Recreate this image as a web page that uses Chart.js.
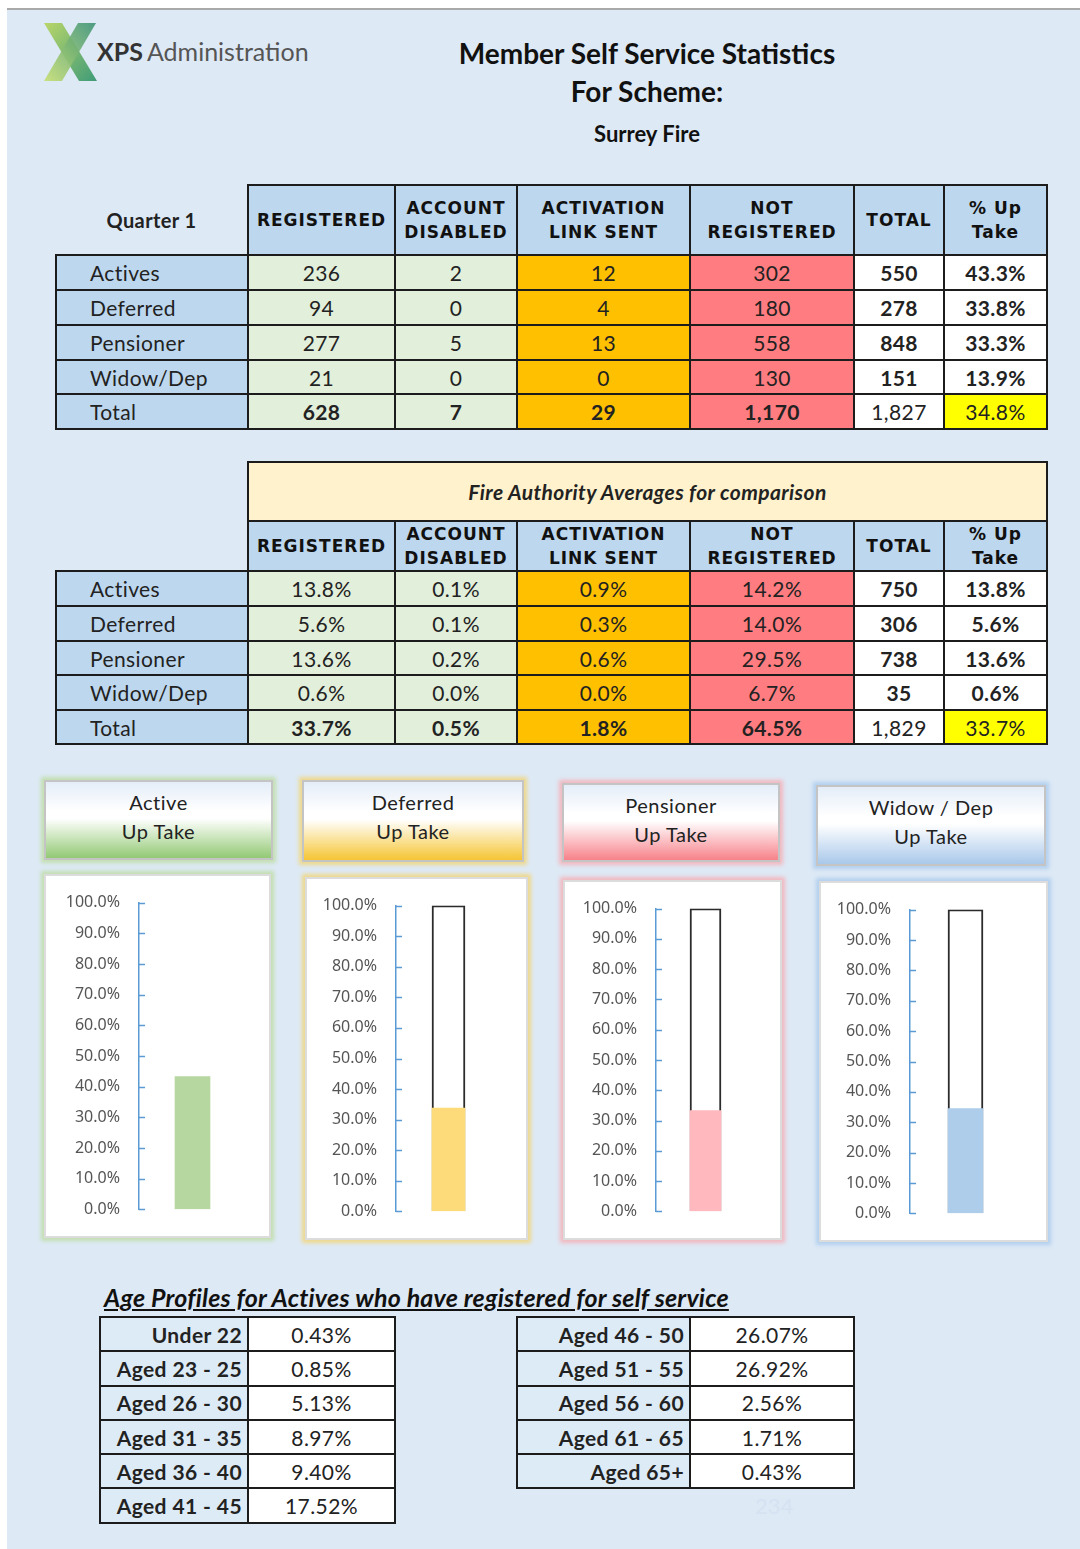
<!DOCTYPE html>
<html>
<head>
<meta charset="utf-8">
<script src="https://cdn.jsdelivr.net/npm/chart.js@4.4.1/dist/chart.umd.min.js"></script>
<style>
    html, body { margin: 0; padding: 0; background: #fff; }
    body { width: 1080px; height: 1549px; position: relative; overflow: hidden; font-family: Lato, 'Noto Sans', sans-serif; }
    .sheet { position: absolute; left: 7px; top: 8px; width: 1073px; height: 1541px; background: #dde9f5; border-top: 2px solid #a9a9a9; }
    .abs { position: absolute; }
    .title { left: 0; width: 1294px; text-align: center; color: #111; font-weight: 700; }
    table { position: absolute; border-collapse: collapse; table-layout: fixed; }
    td { border: 2px solid #1c1c1c; padding: 0; text-align: center; vertical-align: middle; font-size: 21px; color: #222; letter-spacing: 0.4px; white-space: nowrap; }
    td.hd { background: #bdd7ee; font-family: 'DejaVu Sans', sans-serif; font-weight: 700; font-size: 17px; line-height: 24px; letter-spacing: 1px; color: #111; }
    td.lbl { background: #bdd7ee; text-align: left; padding-left: 33px; }
    td.reg { background: #e2efda; }
    td.link { background: #ffc000; }
    td.notreg { background: #ff7c80; }
    td.plain { background: #fff; }
    td.hi { background: #ffff00; }
    td.b { font-weight: 700; }
    td.none { border: none; background: transparent; }
    td.fa { background: #fff2cc; font-style: italic; font-weight: 700; font-size: 21px; }
    td.age { background: #ddebf7; text-align: right; padding-right: 5px; font-weight: 700; font-size: 21px; }
    td.agev { background: #fff; }
    .cardTitle { position: absolute; box-sizing: border-box; border: 2px solid #c4c4c4; text-align: center; font-size: 20px; line-height: 29px; color: #222; padding-top: 6px; letter-spacing: 0.5px; }
    .cardBox { position: absolute; box-sizing: border-box; background: #fff; border: 2px solid #dcdcdc; }
    canvas { position: absolute; }
</style>
</head>
<body>
<div class="sheet"></div>

<svg class="abs" style="left:0;top:0" width="330" height="100">
    <defs>
        <linearGradient id="g1" x1="0" y1="0" x2="1" y2="1">
            <stop offset="0" stop-color="#b9d66a"/>
            <stop offset="1" stop-color="#3f9b78"/>
        </linearGradient>
        <linearGradient id="g2" x1="1" y1="0" x2="0" y2="1">
            <stop offset="0" stop-color="#3d9377"/>
            <stop offset="1" stop-color="#c6df72"/>
        </linearGradient>
    </defs>
    <polygon points="44,23 62,23 97,81 79,81" fill="url(#g1)"/>
    <polygon points="78,23 96,23 62,81 44,81" fill="url(#g2)" opacity="0.9"/>
    <text x="97" y="61" font-family="Lato, sans-serif" font-size="25" fill="#333"><tspan font-weight="700">XPS</tspan><tspan fill="#555" dx="4">Administration</tspan></text>
</svg>

<div class="abs title" style="top:36px;font-size:28px;">Member Self Service Statistics</div>
<div class="abs title" style="top:74px;font-size:28px;">For Scheme:</div>
<div class="abs title" style="top:120px;font-size:22px;">Surrey Fire</div>

<table id="q1Table" style="left:55px;top:184px;width:991px;"></table>
<table id="faTable" style="left:55px;top:461px;width:991px;"></table>

<div id="cards"></div>

<div class="abs" style="left:104px;top:1282px;font-size:25px;font-weight:700;font-style:italic;text-decoration:underline;color:#111;letter-spacing:0.2px;">Age Profiles for Actives who have registered for self service</div>
<table id="ageLeft" style="left:99px;top:1316px;width:295px;"></table>
<table id="ageRight" style="left:516px;top:1316px;width:337px;"></table>
<div class="abs" style="left:755px;top:1492px;font-size:22px;color:#d6e2f1;">234</div>

<script>
// Row / column names
const rowLabels = ['Actives', 'Deferred', 'Pensioner', 'Widow/Dep', 'Total'];
const colHeaders = ['REGISTERED', 'ACCOUNT<br>DISABLED', 'ACTIVATION<br>LINK SENT', 'NOT<br>REGISTERED', 'TOTAL', '% Up<br>Take'];

// Quarter 1 figures
const q1Registered = [236, 94, 277, 21, 628];
const q1Disabled = [2, 0, 5, 0, 7];
const q1LinkSent = [12, 4, 13, 0, 29];
const q1NotRegistered = [302, 180, 558, 130, 1170];
const q1Total = [550, 278, 848, 151, 1827];
const q1UpTake = [43.3, 33.8, 33.3, 13.9, 34.8];

// Fire authority averages
const faRegistered = [13.8, 5.6, 13.6, 0.6, 33.7];
const faDisabled = [0.1, 0.1, 0.2, 0.0, 0.5];
const faLinkSent = [0.9, 0.3, 0.6, 0.0, 1.8];
const faNotRegistered = [14.2, 14.0, 29.5, 6.7, 64.5];
const faTotal = [750, 306, 738, 35, 1829];
const faUpTake = [13.8, 5.6, 13.6, 0.6, 33.7];

// Up take gauges
const upTakeCategories = ['Active', 'Deferred', 'Pensioner', 'Widow / Dep'];
const upTakeBars = [43.3, 33.8, 33.3, 34.5];
const upTakeCapacity = [null, 100, 100, 100];
const axisMin = 0;
const axisMax = 100;
const axisStep = 10;

// Age profiles
const ageBandsLeft = ['Under 22', 'Aged 23 - 25', 'Aged 26 - 30', 'Aged 31 - 35', 'Aged 36 - 40', 'Aged 41 - 45'];
const ageShareLeft = [0.43, 0.85, 5.13, 8.97, 9.40, 17.52];
const ageBandsRight = ['Aged 46 - 50', 'Aged 51 - 55', 'Aged 56 - 60', 'Aged 61 - 65', 'Aged 65+'];
const ageShareRight = [26.07, 26.92, 2.56, 1.71, 0.43];


const colWidths = [192, 147, 122, 173, 164, 90, 103];
const fillClasses = ['reg', 'reg', 'link', 'notreg', 'plain', 'plain'];

function num(v) { return v.toLocaleString('en-GB'); }
function pct(v, d) { return v.toFixed(d) + '%'; }

function colgroup(widths) {
    return '<colgroup>' + widths.map(w => `<col style="width:${w}px">`).join('') + '</colgroup>';
}

function dataRows(columns, heights, boldCols, totalBold) {
    let html = '';
    rowLabels.forEach((label, r) => {
        const isTotal = r === rowLabels.length - 1;
        html += `<tr style="height:${heights[r]}px"><td class="lbl">${label}</td>`;
        columns.forEach((col, c) => {
            let cls = fillClasses[c];
            if (isTotal && c === columns.length - 1) cls = 'hi';
            const bold = isTotal ? totalBold[c] : boldCols[c];
            html += `<td class="${cls}${bold ? ' b' : ''}">${col[r]}</td>`;
        });
        html += '</tr>';
    });
    return html;
}

function headerRow(height, firstText) {
    let html = `<tr style="height:${height}px"><td class="none" style="font-weight:700;font-size:20px;">${firstText}</td>`;
    colHeaders.forEach(h => { html += `<td class="hd">${h}</td>`; });
    return html + '</tr>';
}

// Quarter 1 table
const q1Cols = [q1Registered.map(num), q1Disabled.map(num), q1LinkSent.map(num),
    q1NotRegistered.map(num), q1Total.map(num), q1UpTake.map(v => pct(v, 1))];
document.getElementById('q1Table').innerHTML = colgroup(colWidths) + headerRow(70, 'Quarter 1') +
    dataRows(q1Cols, [35, 35, 35, 34, 35], [false, false, false, false, true, true], [true, true, true, true, false, false]);

// Fire authority table
const faCols = [faRegistered.map(v => pct(v, 1)), faDisabled.map(v => pct(v, 1)), faLinkSent.map(v => pct(v, 1)),
    faNotRegistered.map(v => pct(v, 1)), faTotal.map(num), faUpTake.map(v => pct(v, 1))];
document.getElementById('faTable').innerHTML = colgroup(colWidths) +
    '<tr style="height:59px"><td class="none"></td><td class="fa" colspan="6">Fire Authority Averages for comparison</td></tr>' +
    headerRow(50, '') +
    dataRows(faCols, [35, 35, 34, 35, 34], [false, false, false, false, true, true], [true, true, true, true, false, false]);

// Age tables
function ageTable(id, bands, shares, widths) {
    let html = colgroup(widths);
    bands.forEach((b, i) => {
        html += `<tr style="height:34.3px"><td class="age">${b}</td><td class="agev">${pct(shares[i], 2)}</td></tr>`;
    });
    document.getElementById(id).innerHTML = html;
}
ageTable('ageLeft', ageBandsLeft, ageShareLeft, [148, 147]);
ageTable('ageRight', ageBandsRight, ageShareRight, [173, 164]);


// Gauge cards: title box, chart box and where the axis / bar should land
const cardLayouts = [
    { title: [44, 780, 229, 80], box: [44, 874, 227, 364], axisX: 139, top: 898, zero: 1212, barX: 192.5, barW: 35,
      shade: '#93c974', glow: '#c3dfb0', fill: '#b6d7a0' },
    { title: [302, 780, 222, 82], box: [305, 877, 223, 363], axisX: 396, top: 902, zero: 1214, barX: 448.5, barW: 33,
      shade: '#f5c534', glow: '#efd88c', fill: '#fedb7a' },
    { title: [562, 783, 218, 79], box: [563, 880, 219, 360], axisX: 656, top: 905, zero: 1214, barX: 705.5, barW: 31,
      shade: '#f7828a', glow: '#f2b8bf', fill: '#ffb8bd' },
    { title: [816, 785, 230, 81], box: [819, 881, 229, 361], axisX: 910, top: 905, zero: 1215, barX: 965.5, barW: 35,
      shade: '#a9c8ea', glow: '#b2cfee', fill: '#adcdea' }
];

// Short inward tick marks on the value axis, like the Excel gauges
const innerTicks = {
    id: 'innerTicks',
    afterDraw(chart) {
        const y = chart.scales.y;
        const ctx = chart.ctx;
        ctx.save();
        ctx.strokeStyle = '#5b9bd5';
        ctx.lineWidth = 1.5;
        y.ticks.forEach(t => {
            const py = Math.round(y.getPixelForValue(t.value)) + 0.5;
            ctx.beginPath();
            ctx.moveTo(y.right, py);
            ctx.lineTo(y.right + 6, py);
            ctx.stroke();
        });
        ctx.restore();
    }
};

const cards = document.getElementById('cards');

upTakeCategories.forEach((cat, i) => {
    const L = cardLayouts[i];

    const t = document.createElement('div');
    t.className = 'cardTitle';
    t.style.cssText = `left:${L.title[0]}px;top:${L.title[1]}px;width:${L.title[2]}px;height:${L.title[3]}px;` +
        `background:linear-gradient(to bottom,#e4edf8 0%,#ffffff 38%,#ffffff 48%,${L.shade} 100%);` +
        `box-shadow:0 0 4px 3px ${L.glow};`;
    t.innerHTML = `${cat}<br>Up Take`;
    cards.appendChild(t);

    const b = document.createElement('div');
    b.className = 'cardBox';
    b.style.cssText = `left:${L.box[0]}px;top:${L.box[1]}px;width:${L.box[2]}px;height:${L.box[3]}px;box-shadow:0 0 4px 3px ${L.glow};`;
    cards.appendChild(b);

    const canvas = document.createElement('canvas');
    canvas.width = L.box[2];
    canvas.height = L.box[3];
    canvas.style.left = L.box[0] + 'px';
    canvas.style.top = L.box[1] + 'px';
    canvas.style.width = L.box[2] + 'px';
    canvas.style.height = L.box[3] + 'px';
    cards.appendChild(canvas);

    const axisWidth = L.axisX - L.box[0];
    const areaRight = 2 * L.barX - L.axisX;

    const datasets = [{
        data: [upTakeBars[i]],
        backgroundColor: L.fill,
        borderWidth: 0,
        barThickness: L.barW,
        grouped: false,
        order: 0
    }];
    if (upTakeCapacity[i] !== null) {
        datasets.push({
            data: [upTakeCapacity[i]],
            backgroundColor: '#ffffff',
            borderColor: '#2b2b2b',
            borderWidth: 2,
            barThickness: L.barW,
            grouped: false,
            order: 1
        });
    }

    new Chart(canvas, {
        type: 'bar',
        data: { labels: [cat], datasets: datasets },
        options: {
            responsive: false,
            animation: false,
            devicePixelRatio: 1,
            layout: {
                padding: { left: 0, top: L.top - L.box[1], bottom: L.box[1] + L.box[3] - L.zero, right: L.box[0] + L.box[2] - areaRight }
            },
            plugins: { legend: { display: false }, tooltip: { enabled: false } },
            scales: {
                x: { display: false },
                y: {
                    min: axisMin,
                    max: axisMax,
                    afterFit: s => { s.width = axisWidth; },
                    ticks: {
                        stepSize: axisStep,
                        padding: 19,
                        color: '#555555',
                        font: { family: 'Noto Sans', size: 16 },
                        callback: v => v.toFixed(1) + '%'
                    },
                    grid: { drawOnChartArea: false, drawTicks: false },
                    border: { color: '#5b9bd5', width: 1.5 }
                }
            }
        },
        plugins: [innerTicks]
    });
});
</script>
</body>
</html>
